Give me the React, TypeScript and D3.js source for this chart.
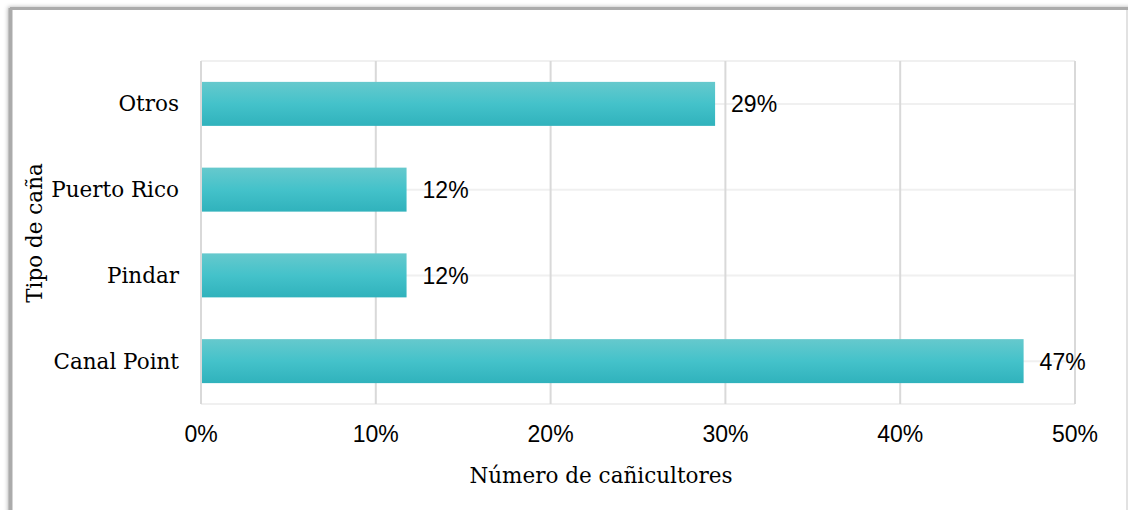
import React from "react";
import * as d3 from "d3";

const categories = ["Otros", "Puerto Rico", "Pindar", "Canal Point"];
const values = [29.41, 11.76, 11.76, 47.06];
const valueLabels = ["29%", "12%", "12%", "47%"];
const xTicks = [0, 10, 20, 30, 40, 50];

const W = 1128;
const H = 510;
const plot = { left: 201, right: 1075, top: 61, bottom: 404 };

export default function App() {
  const x = d3.scaleLinear().domain([0, 50]).range([plot.left, plot.right]);
  const y = d3
    .scaleBand<string>()
    .domain(categories)
    .range([plot.top, plot.bottom])
    .paddingInner(0.487)
    .paddingOuter(0.2435);
  const serif = "'DejaVu Serif', Georgia, serif";
  const sans = "'Liberation Sans', Arial, sans-serif";
  return (
    <svg
      width={W}
      height={H}
      style={{ position: "absolute", left: 0, top: 0, background: "#fff" }}
    >
      <defs>
        <linearGradient id="barGrad" x1="0" y1="0" x2="0" y2="1">
          <stop offset="0%" stopColor="#66c9cd" />
          <stop offset="50%" stopColor="#44c2ca" />
          <stop offset="100%" stopColor="#30b2bc" />
        </linearGradient>
        <filter id="shadow" x="-5%" y="-5%" width="110%" height="110%">
          <feDropShadow dx={-3} dy={-2} stdDeviation={2} floodColor="#000" floodOpacity={0.3} />
        </filter>
      </defs>
      {/* frame */}
      <rect x={11} y={9} width={1130} height={520} fill="#fff" filter="url(#shadow)" />
      <line x1={10} y1={8.5} x2={1128} y2={8.5} stroke="#ababab" strokeWidth={3} />
      <line x1={10.5} y1={8} x2={10.5} y2={510} stroke="#ababab" strokeWidth={4} />
      <line x1={1127} y1={10} x2={1127} y2={510} stroke="#d9d9d9" strokeWidth={1.5} />

      {/* horizontal grid at category centers + plot top/bottom */}
      {categories.map((c) => {
        const cy = (y(c) as number) + y.bandwidth() / 2;
        return (
          <line key={"h" + c} x1={plot.left} x2={plot.right} y1={cy} y2={cy} stroke="#f0f0f0" strokeWidth={2} />
        );
      })}
      <line x1={plot.left} x2={plot.right} y1={plot.top} y2={plot.top} stroke="#f0f0f0" strokeWidth={2} />
      <line x1={plot.left} x2={plot.right} y1={plot.bottom} y2={plot.bottom} stroke="#f0f0f0" strokeWidth={2} />

      {/* vertical grid */}
      {xTicks.map((t) => (
        <line key={"v" + t} x1={x(t)} x2={x(t)} y1={plot.top} y2={plot.bottom} stroke="#d9d9d9" strokeWidth={2} />
      ))}

      {/* bars */}
      {categories.map((c, i) => (
        <rect
          key={"b" + c}
          x={x(0) + 1}
          y={y(c)}
          width={x(values[i]) - x(0) - 1}
          height={y.bandwidth()}
          fill="url(#barGrad)"
        />
      ))}

      {/* data labels */}
      {categories.map((c, i) => (
        <text
          key={"l" + c}
          x={x(values[i]) + 16}
          y={(y(c) as number) + y.bandwidth() / 2 + 8.5}
          fontFamily={sans}
          fontSize={23}
          fill="#000"
        >
          {valueLabels[i]}
        </text>
      ))}

      {/* category labels */}
      {categories.map((c) => (
        <text
          key={"c" + c}
          x={179}
          y={(y(c) as number) + y.bandwidth() / 2 + 7.5}
          textAnchor="end"
          fontFamily={serif}
          fontSize={21.5}
          fill="#000"
        >
          {c}
        </text>
      ))}

      {/* x tick labels */}
      {xTicks.map((t) => (
        <text key={"t" + t} x={x(t)} y={442} textAnchor="middle" fontFamily={sans} fontSize={23} fill="#000">
          {t + "%"}
        </text>
      ))}

      {/* axis titles */}
      <text x={601} y={483} textAnchor="middle" fontFamily={serif} fontSize={21.5} fill="#000">
        Número de cañicultores
      </text>
      <text transform="translate(42,233) rotate(-90)" textAnchor="middle" fontFamily={serif} fontSize={21.5} fill="#000">
        Tipo de caña
      </text>
    </svg>
  );
}
